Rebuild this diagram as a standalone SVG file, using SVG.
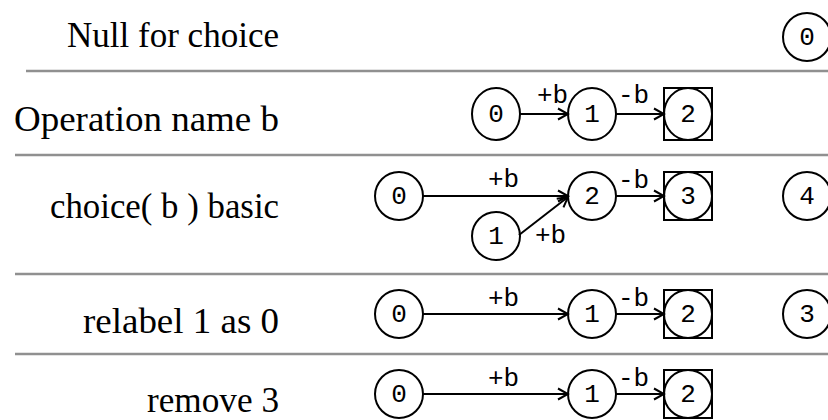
<svg xmlns="http://www.w3.org/2000/svg" width="828" height="420" viewBox="0 0 828 420">
<style>
.lbl{font-family:"Liberation Serif","Times New Roman",serif;font-size:35px;fill:#000}
.nt{font-family:"Liberation Mono","Courier New",monospace;font-size:26px;fill:#000;text-anchor:middle}
.et{font-family:"Liberation Mono","Courier New",monospace;font-size:26px;fill:#000}
.nd{fill:none;stroke:#000;stroke-width:2}
.ed{fill:none;stroke:#000;stroke-width:2;marker-end:url(#vee)}
.sep{stroke:#909090;stroke-width:2.5}
</style>
<defs>
<marker id="vee" markerUnits="userSpaceOnUse" markerWidth="14" markerHeight="14" refX="12" refY="7" orient="auto">
<path d="M2,1.5 L12,7 L2,12.5" fill="none" stroke="#000" stroke-width="2"/>
</marker>
</defs>
<rect width="828" height="420" fill="#fff"/>
<g id="separators">
<line class="sep" x1="26" y1="71" x2="828" y2="71"/>
<line class="sep" x1="15" y1="155" x2="828" y2="155"/>
<line class="sep" x1="15" y1="274" x2="828" y2="274"/>
<line class="sep" x1="15" y1="354" x2="828" y2="354"/>
</g>
<g id="row-labels">
<text class="lbl" x="67" y="47" textLength="212" lengthAdjust="spacingAndGlyphs">Null for choice</text>
<text class="lbl" x="14" y="131" textLength="265" lengthAdjust="spacingAndGlyphs">Operation name b</text>
<text class="lbl" x="50" y="218" textLength="229" lengthAdjust="spacingAndGlyphs">choice( b ) basic</text>
<text class="lbl" x="83" y="333" textLength="196" lengthAdjust="spacingAndGlyphs">relabel 1 as 0</text>
<text class="lbl" x="147" y="412" textLength="132" lengthAdjust="spacingAndGlyphs">remove 3</text>
</g>
<g id="connectors">
<line class="ed" x1="520" y1="114" x2="568" y2="114"/>
<line class="ed" x1="616" y1="114" x2="664" y2="114"/>
<text class="et" x="537" y="103">+b</text>
<text class="et" x="618" y="103">-b</text>
<line class="ed" x1="423" y1="196" x2="568" y2="196"/>
<line class="ed" x1="519" y1="235" x2="568" y2="197"/>
<line class="ed" x1="616" y1="196" x2="664" y2="196"/>
<text class="et" x="488" y="187">+b</text>
<text class="et" x="535" y="243">+b</text>
<text class="et" x="618" y="188">-b</text>
<line class="ed" x1="423" y1="314" x2="568" y2="314"/>
<line class="ed" x1="616" y1="314" x2="664" y2="314"/>
<text class="et" x="488" y="306">+b</text>
<text class="et" x="618" y="306">-b</text>
<line class="ed" x1="423" y1="394" x2="568" y2="394"/>
<line class="ed" x1="616" y1="394" x2="664" y2="394"/>
<text class="et" x="488" y="386">+b</text>
<text class="et" x="618" y="386">-b</text>
</g>
<g id="r1-n0"><circle class="nd" cx="807" cy="37" r="24"/><text class="nt" x="807" y="45">0</text></g>
<g id="r2-n0"><ellipse class="nd" cx="496" cy="114" rx="24" ry="26"/><text class="nt" x="496" y="122">0</text></g>
<g id="r2-n1"><ellipse class="nd" cx="592" cy="114" rx="24" ry="26"/><text class="nt" x="592" y="122">1</text></g>
<g id="r2-n2"><rect class="nd" x="664" y="88" width="48" height="52"/><ellipse class="nd" cx="688" cy="114" rx="24" ry="26"/><text class="nt" x="688" y="122">2</text></g>
<g id="r3-n0"><circle class="nd" cx="399" cy="196" r="24"/><text class="nt" x="399" y="204">0</text></g>
<g id="r3-n1"><circle class="nd" cx="496" cy="236" r="24"/><text class="nt" x="496" y="244">1</text></g>
<g id="r3-n2"><circle class="nd" cx="592" cy="196" r="24"/><text class="nt" x="592" y="204">2</text></g>
<g id="r3-n3"><rect class="nd" x="664" y="172" width="48" height="48"/><circle class="nd" cx="688" cy="196" r="24"/><text class="nt" x="688" y="204">3</text></g>
<g id="r3-n4"><circle class="nd" cx="807" cy="196" r="24"/><text class="nt" x="807" y="204">4</text></g>
<g id="r4-n0"><circle class="nd" cx="399" cy="314" r="24"/><text class="nt" x="399" y="322">0</text></g>
<g id="r4-n1"><circle class="nd" cx="592" cy="314" r="24"/><text class="nt" x="592" y="322">1</text></g>
<g id="r4-n2"><rect class="nd" x="664" y="290" width="48" height="48"/><circle class="nd" cx="688" cy="314" r="24"/><text class="nt" x="688" y="322">2</text></g>
<g id="r4-n3"><circle class="nd" cx="807" cy="314" r="24"/><text class="nt" x="807" y="322">3</text></g>
<g id="r5-n0"><circle class="nd" cx="399" cy="394" r="24"/><text class="nt" x="399" y="402">0</text></g>
<g id="r5-n1"><circle class="nd" cx="592" cy="394" r="24"/><text class="nt" x="592" y="402">1</text></g>
<g id="r5-n2"><rect class="nd" x="664" y="370" width="48" height="48"/><circle class="nd" cx="688" cy="394" r="24"/><text class="nt" x="688" y="402">2</text></g>
</svg>
